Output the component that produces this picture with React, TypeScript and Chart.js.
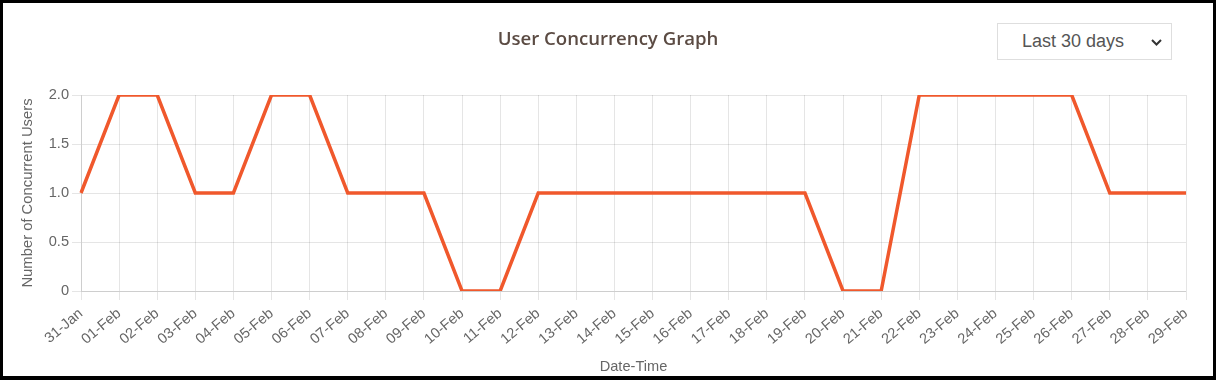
import React, { useEffect, useRef } from "react";
import { Chart, registerables } from "chart.js";

Chart.register(...registerables);

const dateLabels = [
  "31-Jan", "01-Feb", "02-Feb", "03-Feb", "04-Feb", "05-Feb", "06-Feb", "07-Feb",
  "08-Feb", "09-Feb", "10-Feb", "11-Feb", "12-Feb", "13-Feb", "14-Feb", "15-Feb",
  "16-Feb", "17-Feb", "18-Feb", "19-Feb", "20-Feb", "21-Feb", "22-Feb", "23-Feb",
  "24-Feb", "25-Feb", "26-Feb", "27-Feb", "28-Feb", "29-Feb",
];

const concurrentUsers = [
  1, 2, 2, 1, 1, 2, 2, 1, 1, 1, 0, 0, 1, 1, 1, 1, 1, 1, 1, 1, 0, 0, 2, 2, 2, 2, 2, 1, 1, 1,
];

const yTickValues = [0, 0.5, 1.0, 1.5, 2.0];

const chartTitle = "User Concurrency Graph";
const rangeLabel = "Last 30 days";
const yAxisTitle = "Number of Concurrent Users";
const xAxisTitle = "Date-Time";

const FONT = "'Liberation Sans', Arial, sans-serif";

export default function App() {
  const canvasRef = useRef<HTMLCanvasElement | null>(null);

  useEffect(() => {
    if (!canvasRef.current) return;
    const chart = new Chart(canvasRef.current, {
      type: "line",
      data: {
        labels: dateLabels,
        datasets: [
          {
            label: "Concurrent Users",
            data: concurrentUsers,
            borderColor: "#F0582C",
            backgroundColor: "#F0582C",
            borderWidth: 3.5,
            pointRadius: 0,
            pointHoverRadius: 0,
            tension: 0,
            fill: false,
          },
        ],
      },
      options: {
        responsive: false,
        animation: false,
        layout: { padding: { left: 12, right: 27, top: 92, bottom: 0 } },
        plugins: {
          legend: { display: false },
          tooltip: { enabled: false },
          title: { display: false },
        },
        scales: {
          x: {
            grid: { color: "rgba(0,0,0,0.1)", tickLength: 9 },
            border: { color: "rgba(0,0,0,0.1)" },
            ticks: {
              color: "#666",
              font: { family: FONT, size: 14.6 },
              minRotation: 40,
              maxRotation: 40,
              autoSkip: false,
              padding: 5,
            },
            title: {
              display: true,
              text: xAxisTitle,
              color: "#666",
              font: { family: FONT, size: 14.6 },
              padding: { top: 4, bottom: 0 },
            },
            afterFit: (scale: any) => {
              scale.height = 85;
            },
          },
          y: {
            min: 0,
            max: 2,
            grid: { color: "rgba(0,0,0,0.1)", tickLength: 9 },
            border: { color: "rgba(0,0,0,0.1)" },
            afterBuildTicks: (scale: any) => {
              scale.ticks = yTickValues.map((v) => ({ value: v }));
            },
            ticks: {
              color: "#666",
              font: { family: FONT, size: 14.6 },
              padding: 3,
              callback: (v: any) => (Number(v) === 0 ? "0" : Number(v).toFixed(1)),
            },
            title: {
              display: true,
              text: yAxisTitle,
              color: "#666",
              font: { family: FONT, size: 14.8 },
              padding: { top: 4, bottom: 4 },
            },
            afterFit: (scale: any) => {
              scale.width = 66;
            },
          },
        },
      },
    });
    return () => chart.destroy();
  }, []);

  return (
    <div
      style={{
        position: "absolute",
        left: 0,
        top: 0,
        width: 1216,
        height: 380,
        boxSizing: "border-box",
        borderStyle: "solid",
        borderColor: "#000",
        borderWidth: "3px 3px 4px 3px",
        background: "#fff",
        overflow: "hidden",
      }}
    >
      <div style={{ position: "relative", width: 1210, height: 373 }}>
        <canvas ref={canvasRef} width={1210} height={373} style={{ display: "block" }} />
        <div
          style={{
            position: "absolute",
            left: 0,
            top: 21,
            width: 1210,
            textAlign: "center",
            fontFamily: "'Open Sans', 'Noto Sans', sans-serif",
            fontWeight: 600,
            fontSize: 18.6,
            lineHeight: "28px",
            color: "#5b4b43",
          }}
        >
          {chartTitle}
        </div>
        <div
          style={{
            position: "absolute",
            left: 994,
            top: 20,
            width: 175,
            height: 37,
            boxSizing: "border-box",
            border: "1px solid #dedede",
            background: "#fff",
            fontFamily: FONT,
            fontSize: 18,
            color: "#555",
            lineHeight: "35px",
            paddingLeft: 24,
          }}
        >
          <span>{rangeLabel}</span>
          <svg
            width="11"
            height="7"
            viewBox="0 0 11 7"
            style={{ position: "absolute", left: 153, top: 15 }}
          >
            <polyline points="1,1 5.5,5.5 10,1" fill="none" stroke="#333" strokeWidth="2" />
          </svg>
        </div>
      </div>
    </div>
  );
}
